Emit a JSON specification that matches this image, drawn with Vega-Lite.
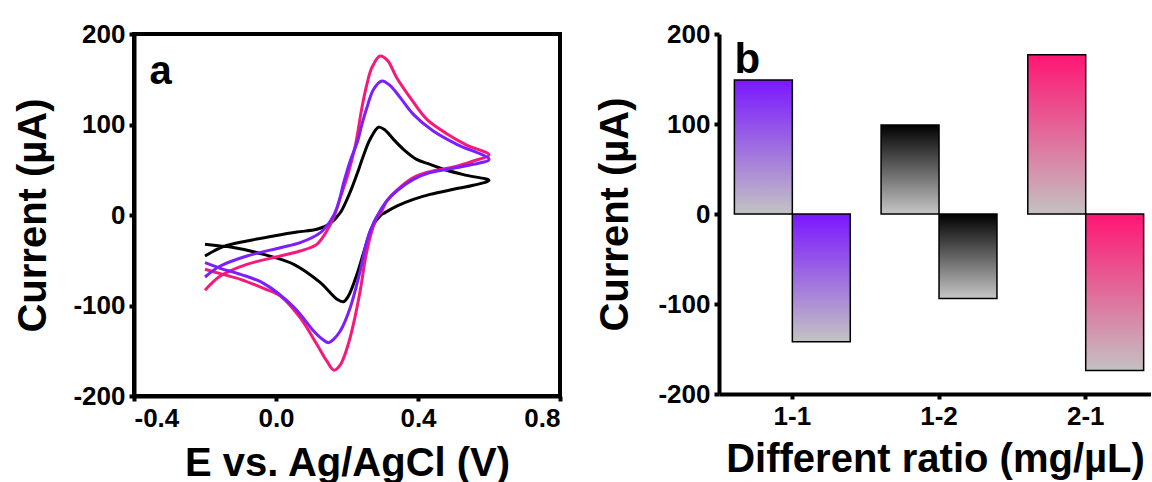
{
  "$schema": "https://vega.github.io/schema/vega-lite/v6.json",
  "background": "white",
  "padding": {"left": 11, "top": 19, "right": 0, "bottom": 0},
  "config": {
    "font": "Liberation Sans",
    "axis": {
      "domainColor": "black", "domainWidth": 4, "tickColor": "black", "tickWidth": 4, "tickSize": 5,
      "labelFont": "Liberation Sans", "labelFontSize": 26, "labelFontWeight": "bold", "labelColor": "black", "labelPadding": 4,
      "titleFont": "Liberation Sans", "titleFontSize": 40, "titleFontWeight": "bold", "titleColor": "black",
      "grid": false
    },
    "concat": {"spacing": 31}
  },
  "hconcat": [
    {
      "width": 426,
      "height": 362,
      "view": {"stroke": "black", "strokeWidth": 4},
      "layer": [
        {
          "data": {"values": [
            {"s":"K","i":1,"E":-0.2,"I":-45.3},{"s":"K","i":2,"E":-0.175,"I":-39.8},{"s":"K","i":3,"E":-0.147,"I":-34.6},{"s":"K","i":4,"E":-0.082,"I":-28.7},{"s":"K","i":5,"E":-0.007,"I":-23.2},{"s":"K","i":6,"E":0.059,"I":-18.8},{"s":"K","i":7,"E":0.115,"I":-15.8},{"s":"K","i":8,"E":0.153,"I":-9.2},{"s":"K","i":9,"E":0.181,"I":2.6},{"s":"K","i":10,"E":0.2,"I":17.3},{"s":"K","i":11,"E":0.214,"I":30.2},{"s":"K","i":12,"E":0.228,"I":44.9},{"s":"K","i":13,"E":0.246,"I":65.2},{"s":"K","i":14,"E":0.265,"I":83.6},{"s":"K","i":15,"E":0.289,"I":97},{"s":"K","i":16,"E":0.307,"I":93.9},{"s":"K","i":17,"E":0.331,"I":83.6},{"s":"K","i":18,"E":0.359,"I":72.6},{"s":"K","i":19,"E":0.396,"I":61.5},{"s":"K","i":20,"E":0.434,"I":56.0},{"s":"K","i":21,"E":0.481,"I":49.4},{"s":"K","i":22,"E":0.537,"I":43.8},{"s":"K","i":23,"E":0.6,"I":38.3},{"s":"K","i":24,"E":0.556,"I":32.8},{"s":"K","i":25,"E":0.5,"I":28.4},{"s":"K","i":26,"E":0.434,"I":22.8},{"s":"K","i":27,"E":0.387,"I":17.3},{"s":"K","i":28,"E":0.34,"I":9.9},{"s":"K","i":29,"E":0.307,"I":2.6},{"s":"K","i":30,"E":0.293,"I":-1.1},{"s":"K","i":31,"E":0.27,"I":-14.0},{"s":"K","i":32,"E":0.251,"I":-36.1},{"s":"K","i":33,"E":0.228,"I":-65.6},{"s":"K","i":34,"E":0.204,"I":-89.5},{"s":"K","i":35,"E":0.19,"I":-95.8},{"s":"K","i":36,"E":0.172,"I":-93.2},{"s":"K","i":37,"E":0.125,"I":-74.8},{"s":"K","i":38,"E":0.05,"I":-54.5},{"s":"K","i":39,"E":-0.035,"I":-43.5},{"s":"K","i":40,"E":-0.128,"I":-35.4},{"s":"K","i":41,"E":-0.157,"I":-34.3},{"s":"K","i":42,"E":-0.2,"I":-32.4},
            {"s":"R","i":1,"E":-0.2,"I":-83.2},{"s":"R","i":2,"E":-0.157,"I":-67.4},{"s":"R","i":3,"E":-0.082,"I":-54.5},{"s":"R","i":4,"E":0.012,"I":-45.3},{"s":"R","i":5,"E":0.068,"I":-39.8},{"s":"R","i":6,"E":0.115,"I":-32.4},{"s":"R","i":7,"E":0.143,"I":-17.7},{"s":"R","i":8,"E":0.162,"I":-2.9},{"s":"R","i":9,"E":0.181,"I":19.2},{"s":"R","i":10,"E":0.2,"I":41.3},{"s":"R","i":11,"E":0.214,"I":61.5},{"s":"R","i":12,"E":0.226,"I":81.8},{"s":"R","i":13,"E":0.242,"I":118.6},{"s":"R","i":14,"E":0.256,"I":144.4},{"s":"R","i":15,"E":0.27,"I":162.8},{"s":"R","i":16,"E":0.293,"I":175.7},{"s":"R","i":17,"E":0.314,"I":170.9},{"s":"R","i":18,"E":0.34,"I":151.7},{"s":"R","i":19,"E":0.378,"I":129.7},{"s":"R","i":20,"E":0.425,"I":105.7},{"s":"R","i":21,"E":0.481,"I":89.9},{"s":"R","i":22,"E":0.537,"I":77.3},{"s":"R","i":23,"E":0.6,"I":66.3},{"s":"R","i":24,"E":0.556,"I":59.7},{"s":"R","i":25,"E":0.5,"I":53.0},{"s":"R","i":26,"E":0.434,"I":47.9},{"s":"R","i":27,"E":0.387,"I":41.3},{"s":"R","i":28,"E":0.34,"I":27.3},{"s":"R","i":29,"E":0.312,"I":15.5},{"s":"R","i":30,"E":0.298,"I":4.4},{"s":"R","i":31,"E":0.284,"I":-2.9},{"s":"R","i":32,"E":0.27,"I":-17.7},{"s":"R","i":33,"E":0.254,"I":-43.5},{"s":"R","i":34,"E":0.237,"I":-84.0},{"s":"R","i":35,"E":0.218,"I":-120.8},{"s":"R","i":36,"E":0.2,"I":-147.3},{"s":"R","i":37,"E":0.181,"I":-165.7},{"s":"R","i":38,"E":0.164,"I":-171.6},{"s":"R","i":39,"E":0.143,"I":-161.3},{"s":"R","i":40,"E":0.115,"I":-142.9},{"s":"R","i":41,"E":0.068,"I":-113.4},{"s":"R","i":42,"E":0.012,"I":-89.5},{"s":"R","i":43,"E":-0.035,"I":-81.1},{"s":"R","i":44,"E":-0.1,"I":-71.1},{"s":"R","i":45,"E":-0.157,"I":-64.8},{"s":"R","i":46,"E":-0.2,"I":-60.0},
            {"s":"P","i":1,"E":-0.2,"I":-68.5},{"s":"P","i":2,"E":-0.157,"I":-56.4},{"s":"P","i":3,"E":-0.082,"I":-45.3},{"s":"P","i":4,"E":0.012,"I":-36.1},{"s":"P","i":5,"E":0.068,"I":-30.6},{"s":"P","i":6,"E":0.125,"I":-19.5},{"s":"P","i":7,"E":0.153,"I":-6.6},{"s":"P","i":8,"E":0.172,"I":8.1},{"s":"P","i":9,"E":0.192,"I":37.6},{"s":"P","i":10,"E":0.209,"I":59.7},{"s":"P","i":11,"E":0.23,"I":81.8},{"s":"P","i":12,"E":0.242,"I":100.2},{"s":"P","i":13,"E":0.256,"I":118.6},{"s":"P","i":14,"E":0.275,"I":138.9},{"s":"P","i":15,"E":0.298,"I":148.1},{"s":"P","i":16,"E":0.321,"I":143.3},{"s":"P","i":17,"E":0.35,"I":129.7},{"s":"P","i":18,"E":0.387,"I":111.2},{"s":"P","i":19,"E":0.443,"I":92.8},{"s":"P","i":20,"E":0.509,"I":78.1},{"s":"P","i":21,"E":0.6,"I":61.5},{"s":"P","i":22,"E":0.556,"I":56.0},{"s":"P","i":23,"E":0.5,"I":51.6},{"s":"P","i":24,"E":0.434,"I":46.8},{"s":"P","i":25,"E":0.387,"I":39.4},{"s":"P","i":26,"E":0.34,"I":26.5},{"s":"P","i":27,"E":0.312,"I":15.5},{"s":"P","i":28,"E":0.293,"I":4.4},{"s":"P","i":29,"E":0.275,"I":-8.5},{"s":"P","i":30,"E":0.256,"I":-28.7},{"s":"P","i":31,"E":0.237,"I":-61.9},{"s":"P","i":32,"E":0.209,"I":-102.4},{"s":"P","i":33,"E":0.181,"I":-128.2},{"s":"P","i":34,"E":0.162,"I":-137.4},{"s":"P","i":35,"E":0.148,"I":-141.1},{"s":"P","i":36,"E":0.125,"I":-135.5},{"s":"P","i":37,"E":0.106,"I":-128.2},{"s":"P","i":38,"E":0.05,"I":-101.7},{"s":"P","i":39,"E":-0.035,"I":-75.5},{"s":"P","i":40,"E":-0.1,"I":-65.6},{"s":"P","i":41,"E":-0.157,"I":-58.9},{"s":"P","i":42,"E":-0.2,"I":-52.7}
          ]},
          "mark": {"type": "line", "strokeWidth": 3, "interpolate": "catmull-rom"},
          "encoding": {
            "x": {"field": "E", "type": "quantitative",
                  "scale": {"domain": [-0.4, 0.8], "nice": false, "zero": false},
                  "axis": {"values": [-0.4, 0, 0.4, 0.8], "labelExpr": "replace(format(datum.value,'.1f'),'\u2212','-')", "title": "E vs. Ag/AgCl (V)", "titlePadding": 12}},
            "y": {"field": "I", "type": "quantitative",
                  "scale": {"domain": [-200, 200], "nice": false},
                  "axis": {"values": [-200, -100, 0, 100, 200], "labelExpr": "toString(datum.value)", "title": "Current (µA)", "titlePadding": 19}},
            "color": {"field": "s", "type": "nominal",
                      "scale": {"domain": ["K", "R", "P"], "range": ["#000000", "#f7197a", "#7b1fff"]},
                      "legend": null},
            "order": {"field": "i", "type": "quantitative"}
          }
        },
        {
          "data": {"values": [{"E": -0.356, "I": 145, "t": "a"}]},
          "mark": {"type": "text", "fontSize": 40, "fontWeight": "bold", "align": "left", "baseline": "alphabetic", "font": "Liberation Sans", "color": "black"},
          "encoding": {
            "x": {"field": "E", "type": "quantitative"},
            "y": {"field": "I", "type": "quantitative"},
            "text": {"field": "t"}
          }
        }
      ]
    },
    {
      "width": 432,
      "height": 360,
      "view": {"stroke": null},
      "layer": [
        {
          "data": {"values": [
            {"ratio": "1-1", "scan": "a", "current": 149},
            {"ratio": "1-1", "scan": "c", "current": -142},
            {"ratio": "1-2", "scan": "a", "current": 99},
            {"ratio": "1-2", "scan": "c", "current": -94},
            {"ratio": "2-1", "scan": "a", "current": 177},
            {"ratio": "2-1", "scan": "c", "current": -174}
          ]},
          "layer": [
            {
              "transform": [{"filter": "datum.ratio === '1-1'"}],
              "mark": {"type": "bar", "stroke": "black", "strokeWidth": 1.5,
                       "fill": {"gradient": "linear", "x1": 0, "y1": 0, "x2": 0, "y2": 1,
                                "stops": [{"offset": 0, "color": "#7a17ff"}, {"offset": 1, "color": "#c3c3c3"}]}},
              "encoding": {
                "x": {"field": "ratio", "type": "nominal",
                      "scale": {"domain": ["1-1", "1-2", "2-1"], "paddingInner": 0.21, "paddingOuter": 0.0775, "align": 0.677},
                      "axis": {"labelAngle": 0, "title": "Different ratio (mg/µL)", "titlePadding": 10}},
                "xOffset": {"field": "scan", "type": "nominal", "scale": {"domain": ["a", "c"], "paddingInner": 0, "paddingOuter": 0}},
                "y": {"field": "current", "type": "quantitative",
                      "scale": {"domain": [-200, 200], "nice": false},
                      "axis": {"values": [-200, -100, 0, 100, 200], "labelExpr": "toString(datum.value)", "title": "Current (µA)", "titlePadding": 22}}
              }
            },
            {
              "transform": [{"filter": "datum.ratio === '1-2'"}],
              "mark": {"type": "bar", "stroke": "black", "strokeWidth": 1.5,
                       "fill": {"gradient": "linear", "x1": 0, "y1": 0, "x2": 0, "y2": 1,
                                "stops": [{"offset": 0, "color": "#000000"}, {"offset": 1, "color": "#c6c6c6"}]}},
              "encoding": {
                "x": {"field": "ratio", "type": "nominal"},
                "xOffset": {"field": "scan", "type": "nominal"},
                "y": {"field": "current", "type": "quantitative"}
              }
            },
            {
              "transform": [{"filter": "datum.ratio === '2-1'"}],
              "mark": {"type": "bar", "stroke": "black", "strokeWidth": 1.5,
                       "fill": {"gradient": "linear", "x1": 0, "y1": 0, "x2": 0, "y2": 1,
                                "stops": [{"offset": 0, "color": "#ff1573"}, {"offset": 1, "color": "#c4c1c1"}]}},
              "encoding": {
                "x": {"field": "ratio", "type": "nominal"},
                "xOffset": {"field": "scan", "type": "nominal"},
                "y": {"field": "current", "type": "quantitative"}
              }
            }
          ]
        },
        {
          "mark": {"type": "rule", "strokeWidth": 4, "color": "black"},
          "encoding": {"y": {"datum": 0}}
        },
        {
          "mark": {"type": "rule", "strokeWidth": 4, "color": "black"},
          "encoding": {"y": {"datum": 200}}
        },
        {
          "data": {"values": [{"ratio": "1-1", "current": 157, "t": "b"}]},
          "mark": {"type": "text", "fontSize": 42, "fontWeight": "bold", "align": "left", "baseline": "alphabetic", "font": "Liberation Sans", "color": "black"},
          "encoding": {
            "x": {"field": "ratio", "type": "nominal", "bandPosition": 0},
            "y": {"field": "current", "type": "quantitative"},
            "text": {"field": "t"}
          }
        }
      ]
    }
  ]
}
